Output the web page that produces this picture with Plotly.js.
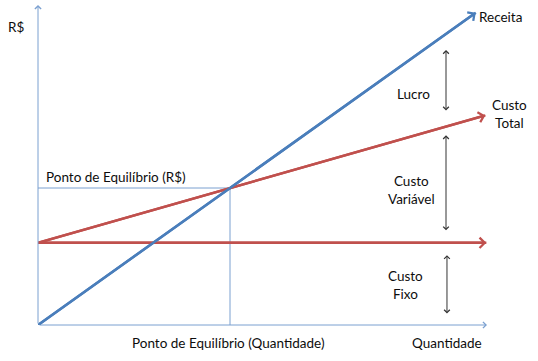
<!DOCTYPE html>
<html><head><meta charset="utf-8">
<script src="https://cdn.plot.ly/plotly-3.0.1.min.js"></script>
<style>html,body{margin:0;padding:0;background:#fff}</style>
</head><body><div id="chart" style="width:538px;height:361px"></div>
<script>
// Data (quantity, R$)
const receitaQ = [0, 228];
const receitaV = [0, 456];
const custoTotalQ = [0, 233];
const custoTotalV = [120, 306];
const custoFixoQ = [0, 233.5];
const custoFixoV = [120, 120];
const equilibrioQ = 100;
const equilibrioV = 200;
const eixoXMax = 233.85;
const eixoYMax = 467.2;

const blue = '#4A7EBB';
const red = '#C0504D';
const axisBlue = '#7BA0D0';
const txt = '#0d0d0d';
const dark = '#333333';

const traces = [
  {x:[0, equilibrioQ], y:[equilibrioV, equilibrioV], mode:'lines', line:{color:axisBlue, width:1}, hoverinfo:'skip'},
  {x:[equilibrioQ, equilibrioQ], y:[0, equilibrioV], mode:'lines', line:{color:axisBlue, width:1}, hoverinfo:'skip'},
  {x:custoFixoQ, y:custoFixoV, mode:'lines', line:{color:red, width:2.5}, name:'Custo Fixo'},
  {x:custoTotalQ, y:custoTotalV, mode:'lines', line:{color:red, width:2.5}, name:'Custo Total'},
  {x:receitaQ, y:receitaV, mode:'lines', line:{color:blue, width:2.5}, name:'Receita'}
];

function arrow(x0,y0,x1,y1,color,width,size,side){
  return {x:x1, y:y1, ax:x0, ay:y0, xref:'x', yref:'y', axref:'x', ayref:'y',
    text:'', showarrow:true, arrowhead:4, arrowsize:size, arrowwidth:width,
    arrowcolor:color, arrowside:side||'end', startarrowhead:4, startarrowsize:size, standoff:0, startstandoff:0};
}
// labels placed in pixel positions converted to paper fractions
function label(px,py,text,xanchor){
  return {x:(px-38)/449, y:(325-py)/320, xref:'paper', yref:'paper', text:text, showarrow:false,
    xanchor:xanchor||'center', yanchor:'middle', align:'center',
    font:{family:'Lato, "Open Sans", sans-serif', size:13.5, color:txt}};
}

const annotations = [
  // axes
  arrow(0,0,eixoXMax,0,axisBlue,1,1.2),
  arrow(0,0,0,eixoYMax,axisBlue,1,1.2),
  // main lines arrowheads
  arrow(custoFixoQ[0],custoFixoV[0],custoFixoQ[1],custoFixoV[1],red,2.5,0.8),
  arrow(custoTotalQ[0],custoTotalV[0],custoTotalQ[1],custoTotalV[1],red,2.5,0.8),
  arrow(receitaQ[0],receitaV[0],receitaQ[1],receitaV[1],blue,2.5,0.8),
  // bracket arrows
  arrow(212.5,311,212.5,401.5,dark,1,1.1,'end+start'),
  arrow(212.5,136,212.5,277,dark,1,1.1,'end+start'),
  arrow(213,14.6,213,102,dark,1,1.1,'end+start'),
  // labels
  label(16,27,'R$'),
  label(477,17,'Receita','left'),
  label(413,94,'Lucro'),
  label(509,114,'Custo<br>Total'),
  label(411,190,'Custo<br>Variável'),
  label(405,285,'Custo<br>Fixo'),
  label(44,177,'Ponto de Equilíbrio (R$)','left'),
  label(228,343,'Ponto de Equilíbrio (Quantidade)'),
  label(446.5,343,'Quantidade')
];

const layout = {
  width:538, height:361,
  margin:{l:38, r:51, t:5, b:36, pad:0},
  paper_bgcolor:'#fff', plot_bgcolor:'#fff',
  showlegend:false,
  xaxis:{range:[0,eixoXMax], visible:false, fixedrange:true},
  yaxis:{range:[0,eixoYMax], visible:false, fixedrange:true},
  annotations:annotations
};
Plotly.newPlot('chart', traces, layout, {displayModeBar:false, staticPlot:true});
</script></body></html>
